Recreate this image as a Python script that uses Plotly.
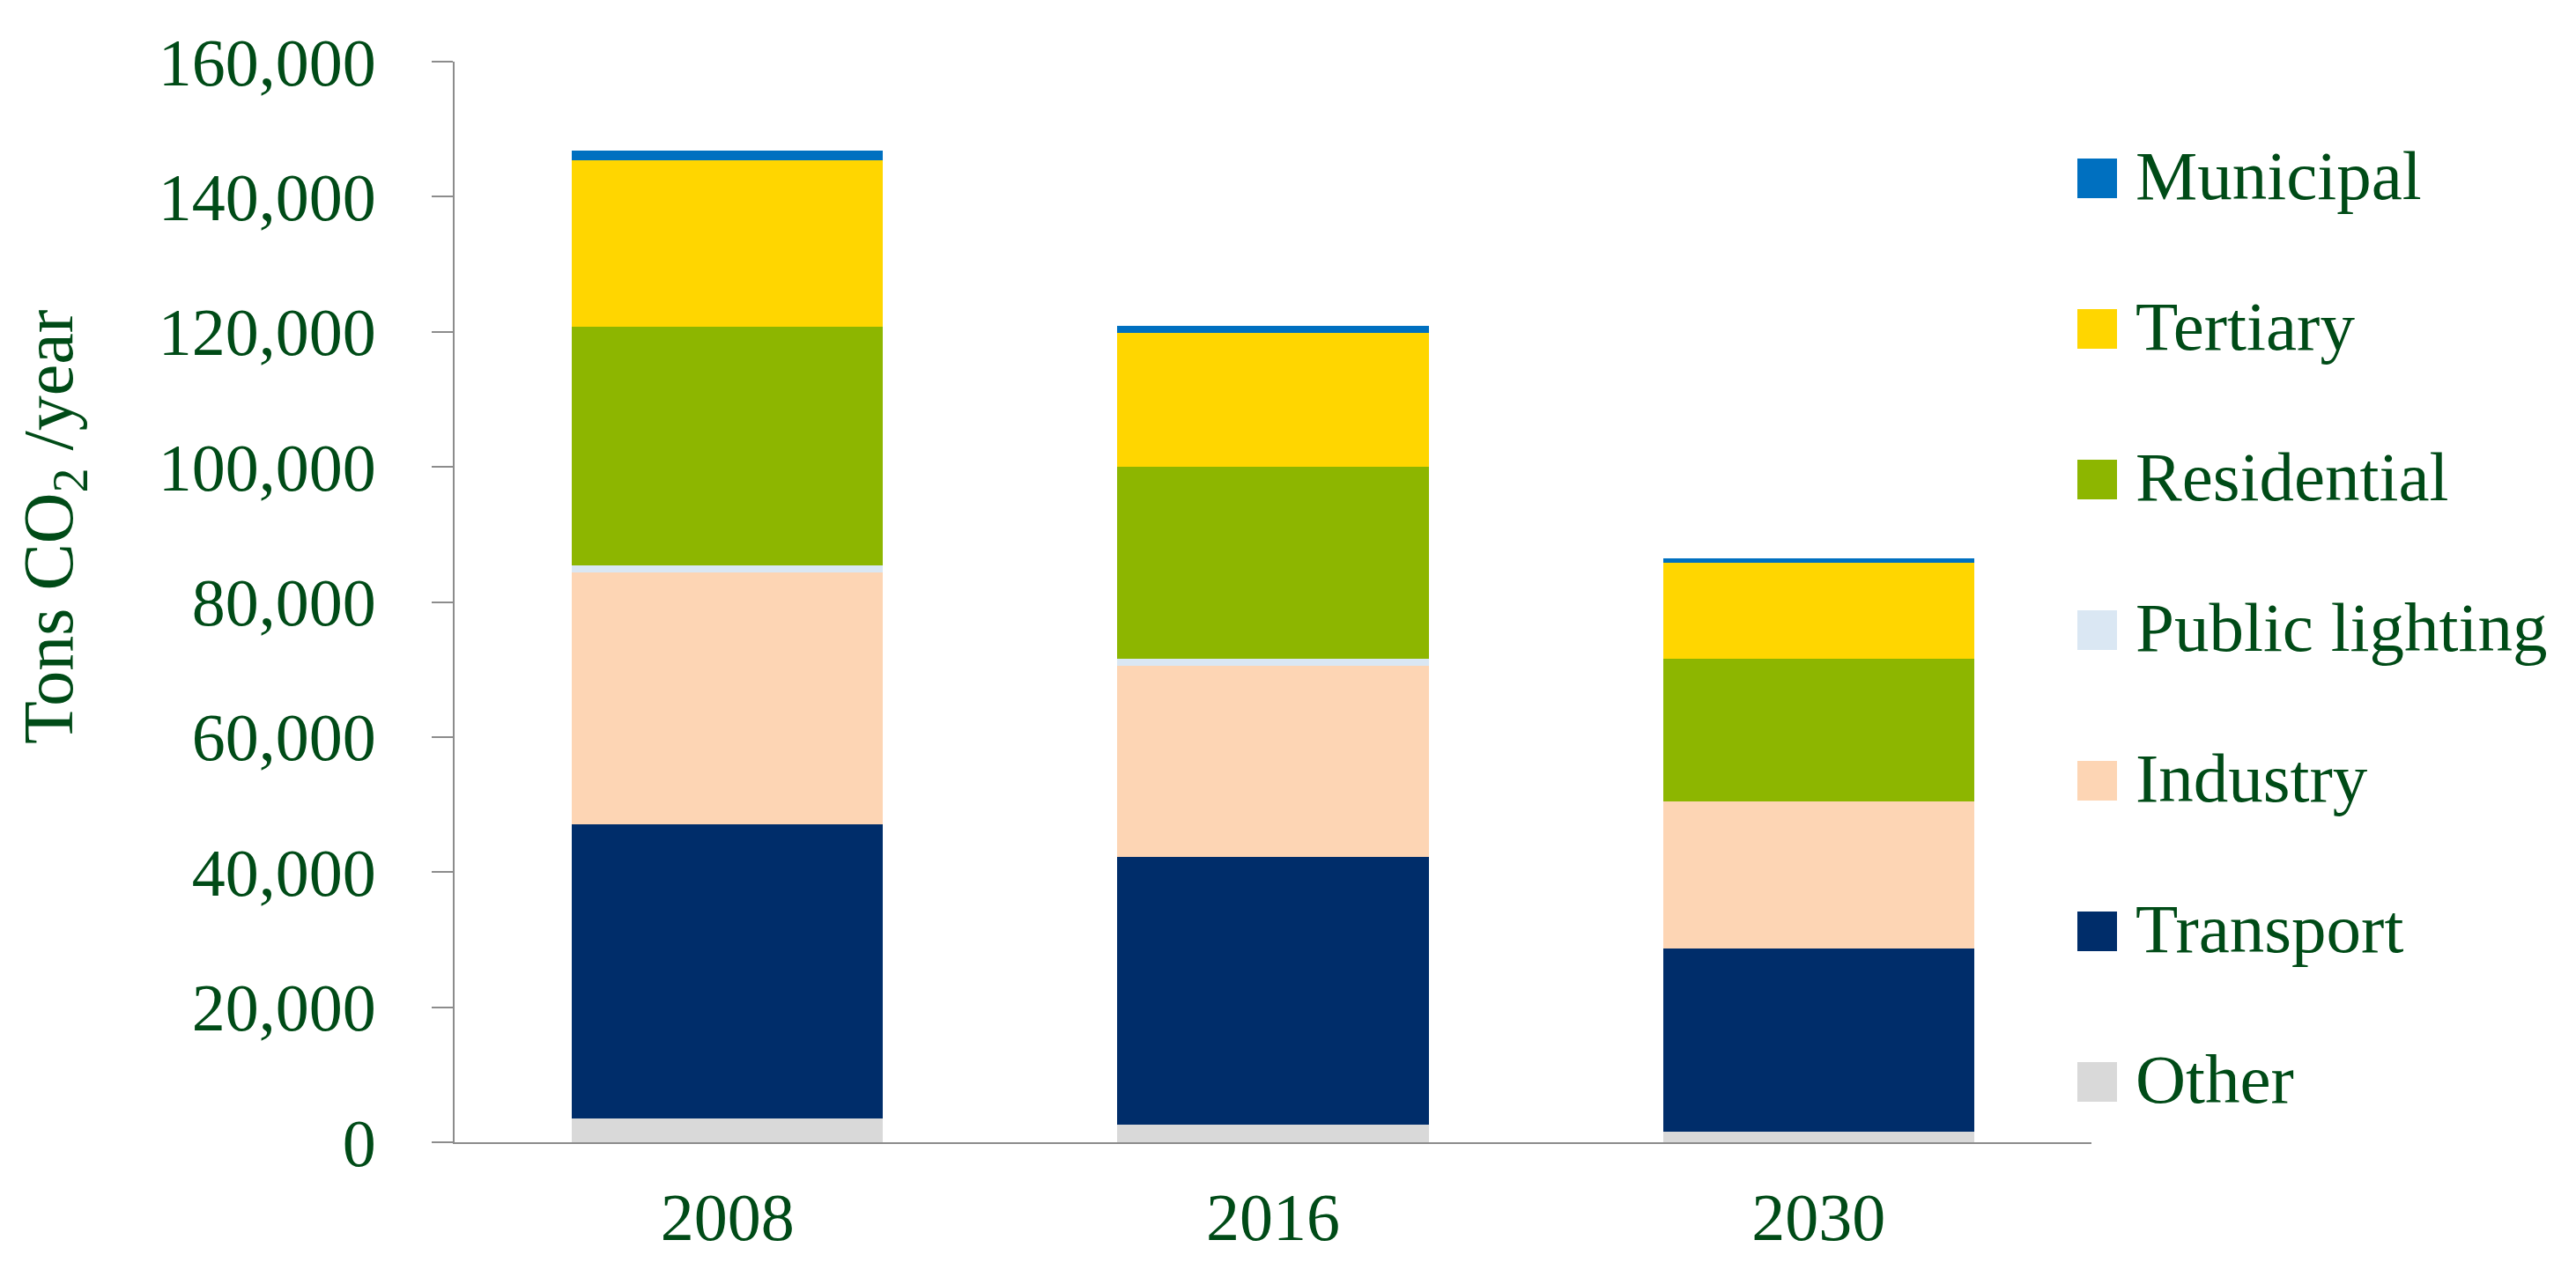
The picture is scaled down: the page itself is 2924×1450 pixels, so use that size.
import plotly.graph_objects as go

# ---------------- data ----------------
years = ["2008", "2016", "2030"]
sectors = ["Other", "Transport", "Industry", "Public lighting", "Residential", "Tertiary", "Municipal"]
other = [3500, 2600, 1600]
transport = [43600, 39700, 27100]
industry = [37300, 28300, 21800]
public_lighting = [1000, 1000, 0]
residential = [35300, 28400, 21100]
tertiary = [24700, 19900, 14200]
municipal = [1400, 1000, 700]
colors = ["#D9D9D9", "#002D6A", "#FDD5B4", "#DAE7F3", "#8DB600", "#FFD600", "#0070C0"]
y_ticks = [0, 20000, 40000, 60000, 80000, 100000, 120000, 140000, 160000]

series = [other, transport, industry, public_lighting, residential, tertiary, municipal]

# ---------------- layout constants (pixels) ----------------
W, H = 2924, 1450
L, R, T, B = 508, 2366, 62, 1289
TXT = "#004B17"
FONT = "Liberation Serif"
FS = 76


def px_x(px):
    return (px - L) / (R - L)


def px_y(py):
    return (B - py) / (B - T)


fig = go.Figure()
for name, vals, col in zip(sectors, series, colors):
    fig.add_trace(go.Bar(
        name=name, x=years, y=vals,
        marker=dict(color=col, line=dict(width=0)),
        showlegend=False,
    ))

# custom legend (top to bottom: Municipal ... Other)
shapes = []
annotations = []
row0, step, half = 194.5, 171.0, 22.5
for i, (name, col) in enumerate(zip(sectors[::-1], colors[::-1])):
    cy = row0 + i * step
    shapes.append(dict(
        type="rect", xref="paper", yref="paper",
        x0=px_x(2350), x1=px_x(2395),
        y0=px_y(cy + half), y1=px_y(cy - half),
        fillcolor=col, line=dict(width=0),
    ))
    annotations.append(dict(
        text=name, xref="paper", yref="paper",
        x=px_x(2414), y=px_y(cy - 3), xanchor="left", yanchor="middle",
        showarrow=False, font=dict(family=FONT, size=79, color=TXT),
    ))

# y-axis title
annotations.append(dict(
    text="Tons CO<sub>2</sub> /year",
    xref="paper", yref="paper",
    x=px_x(53), y=px_y(591), xanchor="center", yanchor="middle",
    textangle=-90, showarrow=False,
    font=dict(family=FONT, size=80, color=TXT),
))

fig.update_layout(
    width=W, height=H,
    margin=dict(l=L, r=W - R, t=T, b=H - B, autoexpand=False),
    barmode="stack",
    bargap=0.43,
    plot_bgcolor="white",
    paper_bgcolor="white",
    font=dict(family=FONT, size=FS, color=TXT),
    shapes=shapes,
    annotations=annotations,
    showlegend=False,
)
fig.update_yaxes(
    range=[0, 160000],
    tickvals=y_ticks,
    tickformat=",d",
    showgrid=False,
    zeroline=False,
    showline=True, linecolor="#8C8C8C", linewidth=2,
    ticks="outside", ticklen=24, tickwidth=2, tickcolor="#8C8C8C",
    ticklabelstandoff=48,
    tickfont=dict(family=FONT, size=FS, color=TXT),
)
fig.update_xaxes(
    showgrid=False,
    showline=True, linecolor="#8C8C8C", linewidth=2,
    ticks="",
    ticklabelstandoff=18,
    tickfont=dict(family=FONT, size=FS, color=TXT),
)

fig.write_html("out.html")
